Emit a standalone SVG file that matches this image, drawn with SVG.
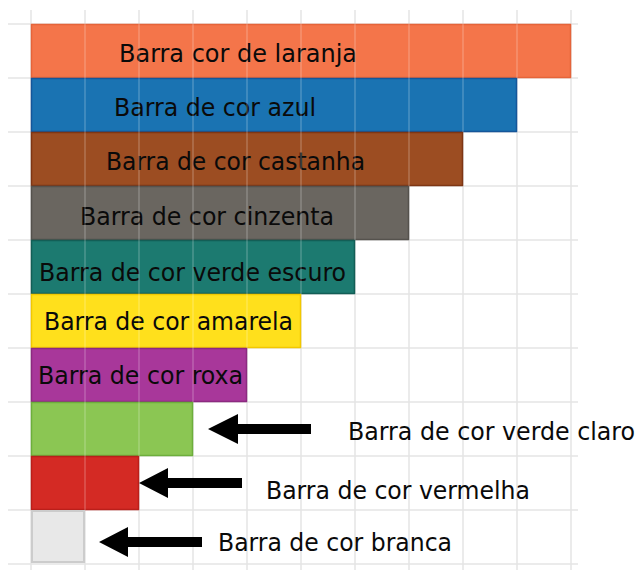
<svg xmlns="http://www.w3.org/2000/svg" width="640" height="570" viewBox="0 0 640 570">
<style>
.grid line{stroke:#e4e4e4;stroke-width:1.5}
.ov line{stroke:#ffffff;stroke-opacity:0.22;stroke-width:1.5}
.bar{stroke-width:1.5}
text{font-family:"DejaVu Sans","Liberation Sans",sans-serif;font-stretch:condensed;font-size:25px;fill:#0a0a0a}
.arrow{fill:#000}
</style>
<rect width="640" height="570" fill="#fff"/>
<g class="grid">
<line x1="31" y1="10" x2="31" y2="570"/><line x1="85" y1="10" x2="85" y2="570"/><line x1="139" y1="10" x2="139" y2="570"/><line x1="193" y1="10" x2="193" y2="570"/><line x1="247" y1="10" x2="247" y2="570"/><line x1="301" y1="10" x2="301" y2="570"/><line x1="355" y1="10" x2="355" y2="570"/><line x1="409" y1="10" x2="409" y2="570"/><line x1="463" y1="10" x2="463" y2="570"/><line x1="517" y1="10" x2="517" y2="570"/><line x1="571" y1="10" x2="571" y2="570"/>
<line x1="8" y1="24" x2="578" y2="24"/><line x1="8" y1="78" x2="578" y2="78"/><line x1="8" y1="132" x2="578" y2="132"/><line x1="8" y1="186" x2="578" y2="186"/><line x1="8" y1="240" x2="578" y2="240"/><line x1="8" y1="294" x2="578" y2="294"/><line x1="8" y1="348" x2="578" y2="348"/><line x1="8" y1="402" x2="578" y2="402"/><line x1="8" y1="456" x2="578" y2="456"/><line x1="8" y1="510" x2="578" y2="510"/><line x1="8" y1="564" x2="578" y2="564"/>
</g>
<g id="bar-laranja"><rect class="bar" x="31.5" y="24.5" width="539" height="53" fill="#F4754A" stroke="#E5643A"/><text x="119" y="62" textLength="238" lengthAdjust="spacingAndGlyphs">Barra cor de laranja</text></g>
<g id="bar-azul"><rect class="bar" x="31.5" y="78.5" width="485" height="53" fill="#1A73B2" stroke="#15569A"/><text x="114" y="116" textLength="202" lengthAdjust="spacingAndGlyphs">Barra de cor azul</text></g>
<g id="bar-castanha"><rect class="bar" x="31.5" y="132.5" width="431" height="53" fill="#9C4D22" stroke="#7E3614"/><text x="106" y="170" textLength="259" lengthAdjust="spacingAndGlyphs">Barra de cor castanha</text></g>
<g id="bar-cinzenta"><rect class="bar" x="31.5" y="186.5" width="377" height="53" fill="#6A6660" stroke="#55524D"/><text x="80" y="225" textLength="254" lengthAdjust="spacingAndGlyphs">Barra de cor cinzenta</text></g>
<g id="bar-verde-escuro"><rect class="bar" x="31.5" y="240.5" width="323" height="53" fill="#1C7A70" stroke="#135E56"/><text x="39" y="281" textLength="307" lengthAdjust="spacingAndGlyphs">Barra de cor verde escuro</text></g>
<g id="bar-amarela"><rect class="bar" x="31.5" y="294.5" width="269" height="53" fill="#FFE01C" stroke="#F2C800"/><text x="44" y="330" textLength="249" lengthAdjust="spacingAndGlyphs">Barra de cor amarela</text></g>
<g id="bar-roxa"><rect class="bar" x="31.5" y="348.5" width="215" height="53" fill="#A8379A" stroke="#8C2A80"/><text x="38" y="384" textLength="205" lengthAdjust="spacingAndGlyphs">Barra de cor roxa</text></g>
<g id="bar-verde-claro"><rect class="bar" x="31.5" y="402.5" width="161" height="53" fill="#8BC653" stroke="#6DAE3C"/></g>
<g id="bar-vermelha"><rect class="bar" x="31.5" y="456.5" width="107" height="53" fill="#D42A24" stroke="#BA1F1A"/></g>
<g id="bar-branca"><rect x="32" y="511" width="52" height="51" fill="#E8E8E8" stroke="#CCCCCC" stroke-width="2"/></g>
<g class="ov">
<line x1="85" y1="24" x2="85" y2="510"/><line x1="139" y1="24" x2="139" y2="456"/><line x1="193" y1="24" x2="193" y2="402"/><line x1="247" y1="24" x2="247" y2="348"/><line x1="301" y1="24" x2="301" y2="294"/><line x1="355" y1="24" x2="355" y2="240"/><line x1="409" y1="24" x2="409" y2="186"/><line x1="463" y1="24" x2="463" y2="132"/><line x1="517" y1="24" x2="517" y2="78"/>
</g>
<g id="connectors">
<polygon class="arrow" points="208,429 238,414 238,424 311,424 311,434 238,434 238,444"/>
<polygon class="arrow" points="139,483 168,468 168,478 242,478 242,488 168,488 168,498"/>
<polygon class="arrow" points="99,542 128,527 128,537 202,537 202,547 128,547 128,557"/>
</g>
<g id="label-verde-claro"><text x="348" y="440" textLength="287" lengthAdjust="spacingAndGlyphs">Barra de cor verde claro</text></g>
<g id="label-vermelha"><text x="266" y="499" textLength="264" lengthAdjust="spacingAndGlyphs">Barra de cor vermelha</text></g>
<g id="label-branca"><text x="218" y="551" textLength="234" lengthAdjust="spacingAndGlyphs">Barra de cor branca</text></g>
</svg>
